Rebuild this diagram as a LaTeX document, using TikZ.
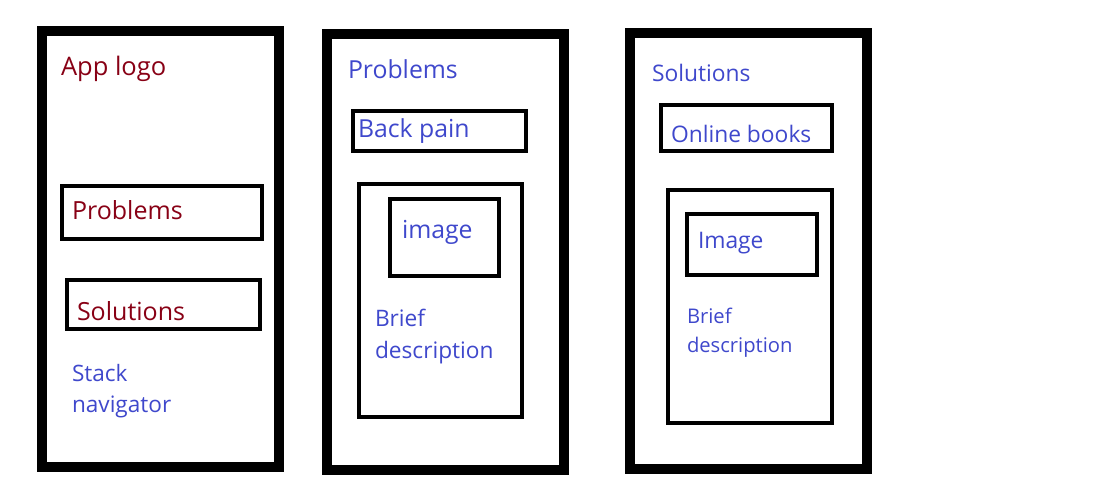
\documentclass[tikz,border=0pt]{standalone}
\usepackage{fontspec}
\setmainfont{Open Sans}
\definecolor{wineRed}{RGB}{136,0,21}
\definecolor{inkBlue}{RGB}{63,72,204}
\begin{document}
\begin{tikzpicture}[x=1pt,y=-1pt,
  screen/.style={line width=10pt},
  frame/.style={line width=4pt},
  lbl/.style={anchor=base west,inner sep=0pt,outer sep=0pt},
  redtxt/.style={lbl,text=wineRed},
  bluetxt/.style={lbl,text=inkBlue},
  fs/.style={font=\fontsize{#1}{#1}\selectfont}]
\useasboundingbox[fill=white] (0,0) rectangle (1096,492);

% Home screen
\draw[screen] (42,31) rectangle (279,467);
\draw[frame] (62,186) rectangle (262,239);
\draw[frame] (67,280) rectangle (260,329);
\node[redtxt,fs=25.5] (logo) at (61,76) {App logo};
\node[redtxt,fs=25] (homeProb) at (72,220) {Problems};
\node[redtxt,fs=25] (homeSol) at (77,320) {Solutions};
\node[bluetxt,fs=22.6] (nav1) at (72,381) {Stack};
\node[bluetxt,fs=22.6] (nav2) at (72,412) {navigator};

% Problems screen
\draw[screen] (327,34) rectangle (564,470);
\draw[frame] (353,111) rectangle (526,151);
\draw[frame] (359,184) rectangle (522,417);
\draw[frame] (390,199) rectangle (499,276);
\node[bluetxt,fs=24.8] (probTitle) at (348,79) {Problems};
\node[bluetxt,fs=24.8] (backPain) at (358,138) {Back pain};
\node[bluetxt,fs=24.8] (probImg) at (402,238) {image};
\node[bluetxt,fs=22.7] (probDesc1) at (375,326) {Brief};
\node[bluetxt,fs=22.7] (probDesc2) at (375,358) {description};

% Solutions screen
\draw[screen] (630,33) rectangle (867,469);
\draw[frame] (661,105) rectangle (832,151);
\draw[frame] (668,190) rectangle (832,423);
\draw[frame] (687,214) rectangle (817,275);
\node[bluetxt,fs=22.8] (solTitle) at (652,82) {Solutions};
\node[bluetxt,fs=22.8] (books) at (671,143) {Online books};
\node[bluetxt,fs=22.8] (solImg) at (698,248) {Image};
\node[bluetxt,fs=20.2] (solDesc1) at (687,323) {Brief};
\node[bluetxt,fs=20.2] (solDesc2) at (687,352) {description};
\end{tikzpicture}
\end{document}
